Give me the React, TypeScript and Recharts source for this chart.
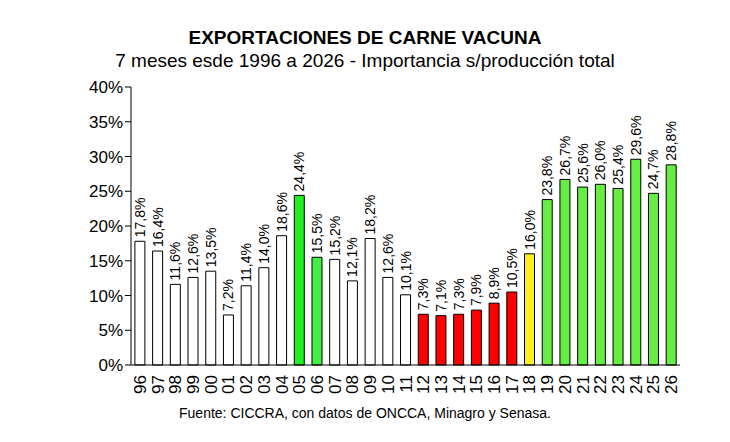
import React from "react";
import { BarChart, Bar, XAxis, YAxis, Cell, LabelList } from "recharts";

const years = ["96","97","98","99","00","01","02","03","04","05","06","07","08","09","10","11","12","13","14","15","16","17","18","19","20","21","22","23","24","25","26"];
const values = [17.8,16.4,11.6,12.6,13.5,7.2,11.4,14.0,18.6,24.4,15.5,15.2,12.1,18.2,12.6,10.1,7.3,7.1,7.3,7.9,8.9,10.5,16.0,23.8,26.7,25.6,26.0,25.4,29.6,24.7,28.8];
const colors = ["#fff","#fff","#fff","#fff","#fff","#fff","#fff","#fff","#fff","#22ee22","#44ee44","#fff","#fff","#fff","#fff","#fff","#ff0000","#ff0000","#ff0000","#ff0000","#ff0000","#ff0000","#ffee22","#66ee44","#66ee44","#66ee44","#66ee44","#66ee44","#66ee44","#66ee44","#66ee44"];
const yTicks = [0,5,10,15,20,25,30,35,40];

const data = years.map((y, i) => ({ year: y, v: values[i] }));

const Lbl = (p: any) => {
  const x = p.x + p.width / 2 + 5;
  const y = p.y - 4;
  return (
    <text x={x} y={y} transform={`rotate(-90 ${x} ${y})`} textAnchor="start" fontSize={14} fill="#000">
      {p.value.toFixed(1).replace(".", ",")}%
    </text>
  );
};

export default function App() {
  const font = "'Liberation Sans', Arial, sans-serif";
  return (
    <div style={{ position: "absolute", left: 0, top: 0, width: 730, height: 442, background: "#fff", fontFamily: font }}>
      <div style={{ position: "absolute", top: 27, width: 730, textAlign: "center", fontWeight: "bold", fontSize: 19 }}>EXPORTACIONES DE CARNE VACUNA</div>
      <div style={{ position: "absolute", top: 50, width: 730, textAlign: "center", fontSize: 19 }}>7 meses esde 1996 a 2026 - Importancia s/producción total</div>
      <div style={{ position: "absolute", top: 405, width: 730, textAlign: "center", fontSize: 14 }}>Fuente: CICCRA, con datos de ONCCA, Minagro y Senasa.</div>
      <BarChart width={730} height={442} data={data} margin={{ top: 87, right: 50, bottom: 0, left: 73 }} barCategoryGap="22%">
        <YAxis domain={[0, 40]} ticks={yTicks} tickFormatter={(v) => `${v}%`} tick={{ fill: "#000", fontSize: 17, fontFamily: font }} axisLine={{ stroke: "#000" }} tickLine={{ stroke: "#000" }} width={58} interval={0} />
        <XAxis dataKey="year" interval={0} height={77} axisLine={{ stroke: "#000" }} tickLine={false}
          tick={(p: any) => (
            <text x={p.x + 6} y={p.y + 2} transform={`rotate(-90 ${p.x + 6} ${p.y + 2})`} textAnchor="end" fontSize={17} fontFamily={font} fill="#000">{p.payload.value}</text>
          )} />
        <Bar dataKey="v" isAnimationActive={false} stroke="#000" strokeWidth={1}>
          {data.map((d, i) => <Cell key={d.year} fill={colors[i]} />)}
          <LabelList dataKey="v" content={Lbl} />
        </Bar>
      </BarChart>
    </div>
  );
}
